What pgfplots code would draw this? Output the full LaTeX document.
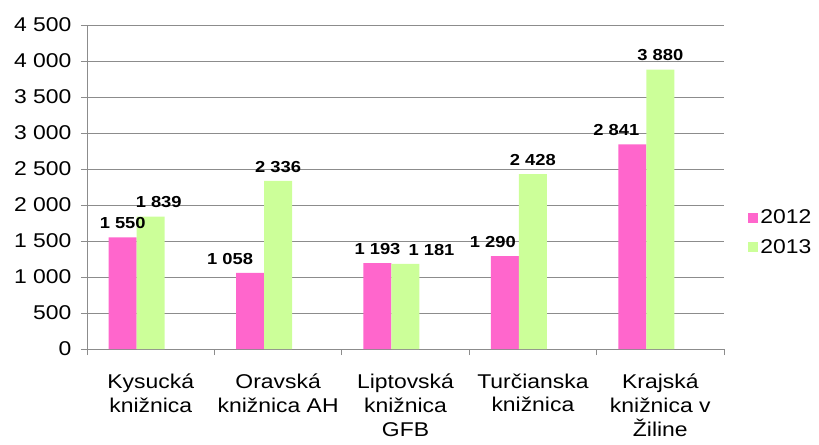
\documentclass[border=0pt]{standalone}
\usepackage{fontspec}
\setmainfont[FakeStretch=1.15]{Liberation Sans}
\usepackage{pgfplots}
\usepackage{pgfplotstable}
\pgfplotsset{compat=1.18}

\definecolor{pinkbar}{HTML}{FF66CC}
\definecolor{greenbar}{HTML}{CCFF99}
\definecolor{gridgray}{HTML}{8C8C8C}

% x = category index, dx = label offset from category centre (bp)
\pgfplotstableread{
x y dx
0 1550 -28
1 1058 -48
2 1193 -28
3 1290 -40
4 2841 -44
}\rokA
\pgfplotstableread{
x y dx
0 1839 8
1 2336 0
2 1181 26
3 2428 0
4 3880 0
}\rokB

\begin{document}
\begin{tikzpicture}
\useasboundingbox (-87bp,-96bp) rectangle (732bp,349bp);
\begin{axis}[
  scale only axis, width=637bp, height=324bp,
  xmin=-0.5, xmax=4.5, ymin=0, ymax=4500,
  axis x line*=bottom, axis y line*=left,
  axis line style={gridgray, line width=0.8pt},
  ytick={0,500,...,4500},
  xtick={0,...,4},
  xticklabels={{Kysucká\\knižnica},{Oravská\\knižnica AH},{Liptovská\\knižnica\\GFB},{Turčianska\\knižnica},{Krajská\\knižnica v\\Žiline}},
  minor xtick={-0.5,0.5,...,4.5},
  major x tick style={draw=none},
  minor x tick style={gridgray, line width=0.8pt},
  y tick style={gridgray, line width=0.8pt},
  tick align=outside, major tick length=6bp, minor tick length=6bp,
  ymajorgrids, grid style={gridgray, line width=0.8pt},
  /pgf/number format/.cd, 1000 sep={\ }, assume math mode=true, /pgfplots/.cd,
  ticklabel style={font=\fontsize{20}{24}\selectfont},
  xticklabel style={align=center, yshift=-15bp},
  yticklabel style={xshift=-6bp},
  legend image code/.code={\fill[#1] (0bp,-5bp) rectangle (10bp,5bp);},
  legend style={at={(1.038,0.36)}, anchor=west, draw=none, fill=none, inner sep=0pt,
    font=\fontsize{20}{24}\selectfont, row sep=10bp, cells={anchor=west}},
  nodes near coords,
  every node near coord/.append style={font=\bfseries\fontsize{16}{19}\selectfont, anchor=south, yshift=5bp, xshift=\dx bp},
  visualization depends on={\thisrow{dx} \as \dx},
  clip=false,
]
\addplot[ybar, bar width=28bp, bar shift=-28bp, fill=pinkbar, draw=none] table[x=x, y=y] {\rokA};
\addlegendentry{2012}
\addplot[ybar, bar width=28bp, bar shift=0bp, fill=greenbar, draw=none] table[x=x, y=y] {\rokB};
\addlegendentry{2013}
\end{axis}
\end{tikzpicture}
\end{document}
